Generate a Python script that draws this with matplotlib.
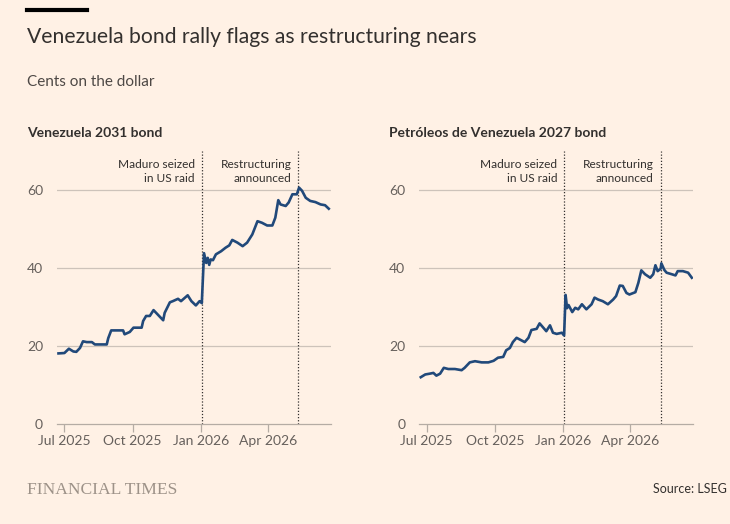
import matplotlib.pyplot as plt
import pandas as pd

# Venezuela 2031 bond, cents on the dollar
bond31_dates = ["2025-06-23", "2025-07-01", "2025-07-07", "2025-07-13", "2025-07-17",
                "2025-07-22", "2025-07-26", "2025-07-31", "2025-08-07", "2025-08-11",
                "2025-08-18", "2025-08-27", "2025-08-29", "2025-09-02", "2025-09-07",
                "2025-09-18", "2025-09-20", "2025-09-27", "2025-10-02", "2025-10-13",
                "2025-10-15", "2025-10-19", "2025-10-24", "2025-10-29", "2025-11-04",
                "2025-11-11", "2025-11-13", "2025-11-20", "2025-11-24", "2025-12-01",
                "2025-12-05", "2025-12-14", "2025-12-19", "2025-12-25", "2025-12-30",
                "2026-01-02", "2026-01-05", "2026-01-08", "2026-01-10", "2026-01-12",
                "2026-01-14", "2026-01-17", "2026-01-21", "2026-01-28", "2026-02-03",
                "2026-02-08", "2026-02-12", "2026-02-19", "2026-02-26", "2026-03-04",
                "2026-03-11", "2026-03-18", "2026-03-24", "2026-03-31", "2026-04-07",
                "2026-04-11", "2026-04-15", "2026-04-18", "2026-04-25", "2026-04-29",
                "2026-05-04", "2026-05-10", "2026-05-13", "2026-05-17", "2026-05-22",
                "2026-05-28", "2026-06-04", "2026-06-11", "2026-06-17", "2026-06-22"]
bond31_values = [18.1, 18.2, 19.3, 18.6, 18.5,
                 19.5, 21.2, 21.0, 21.0, 20.4,
                 20.4, 20.4, 22.0, 24.0, 24.0,
                 24.0, 23.0, 23.6, 24.7, 24.7,
                 26.4, 27.7, 27.7, 29.2, 28.0,
                 26.6, 28.5, 31.2, 31.5, 32.1,
                 31.5, 33.0, 31.5, 30.4, 31.5,
                 31.0, 43.8, 41.3, 42.6, 40.8,
                 42.2, 42.0, 43.5, 44.3, 45.2,
                 45.8, 47.2, 46.5, 45.6, 46.5,
                 48.6, 52.0, 51.6, 50.9, 50.9,
                 52.9, 57.4, 56.3, 55.9, 56.8,
                 58.9, 58.9, 60.6, 59.8, 58.0,
                 57.2, 56.9, 56.3, 56.1, 55.2]

# Petróleos de Venezuela 2027 bond
pdvsa_dates = ["2025-06-23", "2025-06-29", "2025-07-05", "2025-07-10", "2025-07-14",
               "2025-07-19", "2025-07-24", "2025-07-30", "2025-08-08", "2025-08-17",
               "2025-08-21", "2025-08-28", "2025-09-04", "2025-09-13", "2025-09-22",
               "2025-09-29", "2025-10-05", "2025-10-12", "2025-10-16", "2025-10-21",
               "2025-10-25", "2025-10-30", "2025-11-05", "2025-11-10", "2025-11-15",
               "2025-11-19", "2025-11-26", "2025-11-30", "2025-12-05", "2025-12-09",
               "2025-12-14", "2025-12-18", "2025-12-23", "2025-12-30", "2026-01-02",
               "2026-01-04", "2026-01-06", "2026-01-08", "2026-01-13", "2026-01-17",
               "2026-01-21", "2026-01-26", "2026-02-01", "2026-02-08", "2026-02-12",
               "2026-02-17", "2026-02-23", "2026-03-02", "2026-03-09", "2026-03-13",
               "2026-03-18", "2026-03-22", "2026-03-27", "2026-03-31", "2026-04-08",
               "2026-04-12", "2026-04-16", "2026-04-21", "2026-04-28", "2026-05-02",
               "2026-05-05", "2026-05-08", "2026-05-12", "2026-05-13", "2026-05-17",
               "2026-05-20", "2026-05-27", "2026-06-01", "2026-06-04", "2026-06-11",
               "2026-06-18", "2026-06-23"]
pdvsa_values = [12.0, 12.7, 12.9, 13.1, 12.4,
                12.9, 14.4, 14.1, 14.1, 13.8,
                14.4, 15.8, 16.1, 15.8, 15.8,
                16.2, 17.0, 17.2, 18.9, 19.5,
                21.0, 22.1, 21.5, 21.0, 22.1,
                24.1, 24.4, 25.8, 24.7, 23.8,
                25.3, 23.4, 23.1, 23.4, 22.7,
                33.1, 29.7, 30.5, 28.7, 29.8,
                29.4, 30.7, 29.4, 30.7, 32.4,
                31.9, 31.5, 30.7, 31.9, 32.8,
                35.5, 35.4, 33.6, 33.2, 33.8,
                36.2, 39.4, 38.4, 37.5, 38.4,
                40.7, 39.2, 39.8, 41.2, 39.5,
                38.8, 38.4, 38.1, 39.2, 39.2,
                38.8, 37.5]

event_dates = ["2026-01-02", "2026-05-12"]
event_labels = ["Maduro seized\nin US raid", "Restructuring\nannounced"]

tick_dates = ["2025-07-01", "2025-10-01", "2026-01-01", "2026-04-01"]
tick_labels = ["Jul 2025", "Oct 2025", "Jan 2026", "Apr 2026"]
y_ticks = [0, 20, 40, 60]

panels = [
    ("Venezuela 2031 bond", bond31_dates, bond31_values),
    ("Petróleos de Venezuela 2027 bond", pdvsa_dates, pdvsa_values),
]

bg = "#FFF1E5"
text_dark = "#33302e"
tick_col = "#66605c"
line_col = "#21497a"
grid_col = "#cdc3ba"
narrow = ['Liberation Sans Narrow', 'Lato']

plt.rcParams['font.family'] = ['Lato', 'DejaVu Sans']

fig = plt.figure(figsize=(7.3, 5.24), dpi=100)
fig.patch.set_facecolor(bg)

lefts = [57 / 730, 419.3 / 730]
for (title, dates, values), left in zip(panels, lefts):
    ax = fig.add_axes([left, 100 / 524, 274 / 730, 273 / 524])
    ax.set_facecolor(bg)
    x = pd.to_datetime(dates)
    ax.plot(x, values, color=line_col, lw=1.9, solid_joinstyle='round', zorder=3)
    ax.set_xlim(pd.Timestamp("2025-06-21"), pd.Timestamp("2026-06-25"))
    ax.set_ylim(0, 70)
    ax.set_yticks(y_ticks)
    ax.set_yticklabels([str(v) for v in y_ticks])
    for v in y_ticks[1:]:
        ax.axhline(v, color=grid_col, lw=0.9, zorder=1)
    for s in ["top", "right", "left"]:
        ax.spines[s].set_visible(False)
    ax.spines["bottom"].set_color("#b5aca4")
    ax.spines["bottom"].set_linewidth(0.9)
    ax.set_xticks(pd.to_datetime(tick_dates))
    ax.set_xticklabels(tick_labels)
    ax.tick_params(axis='x', length=6, width=0.9, color="#b5aca4", pad=2,
                   labelsize=10, labelcolor=tick_col)
    ax.tick_params(axis='y', length=0, pad=10, labelsize=10, labelcolor=tick_col)
    for lab in ax.get_xticklabels() + ax.get_yticklabels():
        lab.set_family(narrow)

    for d, lab in zip(event_dates, event_labels):
        xd = pd.Timestamp(d)
        ax.axvline(xd, color=text_dark, lw=0.9, ls=(0, (1, 1.5)), zorder=2)
        ax.annotate(lab, xy=(xd, 1), xycoords=('data', 'axes fraction'),
                    xytext=(-5, -6), textcoords='offset points',
                    ha='right', va='top', fontsize=8.6, color=text_dark,
                    linespacing=1.35)

    ax.text(-30 / 274, 14 / 273 + 1, title, transform=ax.transAxes, fontsize=10,
            fontweight='bold', color=text_dark, ha='left', va='baseline')

# header
fig.add_artist(plt.Line2D([27 / 730, 87 / 730], [1 - 9.5 / 524, 1 - 9.5 / 524],
                          color='black', lw=3))
fig.text(27 / 730, 1 - 43 / 524, "Venezuela bond rally flags as restructuring nears",
         fontsize=15.2, color=text_dark, ha='left', va='baseline')
fig.text(27 / 730, 1 - 86 / 524, "Cents on the dollar", fontsize=11,
         color="#4d4845", ha='left', va='baseline')

# footer
fig.text(27 / 730, 1 - 494 / 524, "FINANCIAL TIMES", fontsize=12.6,
         family=['Liberation Serif', 'DejaVu Serif'], color="#9d9288",
         ha='left', va='baseline')
fig.text(727 / 730, 1 - 493 / 524, "Source: LSEG", fontsize=9, color=text_dark,
         ha='right', va='baseline', family=narrow)

fig.savefig("out.png", dpi=100, facecolor=bg)
